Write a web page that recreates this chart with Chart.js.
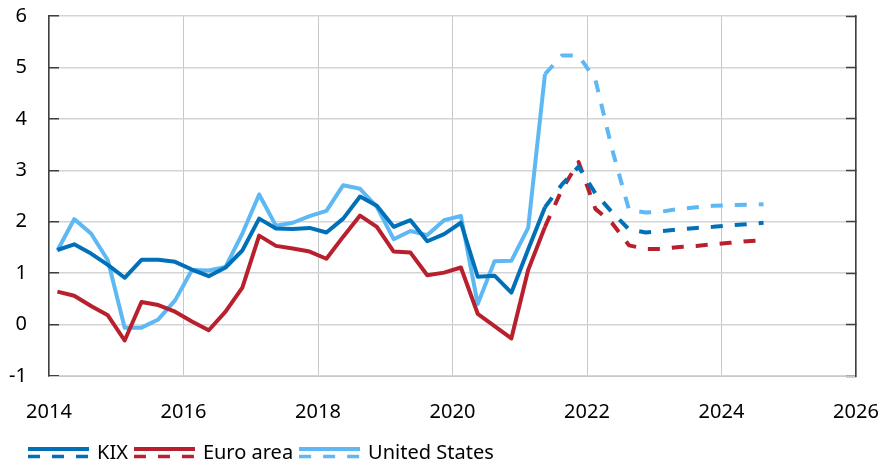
<!DOCTYPE html>
<html>
<head>
<meta charset="utf-8">
<script src="https://cdn.jsdelivr.net/npm/chart.js@4.4.0/dist/chart.umd.min.js"></script>
<style>
  body { margin: 0; background: #fff; }
  #wrap { width: 881px; height: 461px; }
</style>
</head>
<body>
<div id="wrap"><canvas id="chart" width="881" height="461"></canvas></div>
<script>
// quarters 2014Q1 .. 2024Q3, forecast (dashed) from 2021Q2 on
const firstYear = 2014;
const quarterCount = 43;
const forecastFrom = 29; // index of 2021Q2

const kix = [
  1.45, 1.56, 1.38, 1.16,
  0.91, 1.26, 1.26, 1.22,
  1.07, 0.94, 1.11, 1.44,
  2.06, 1.87, 1.86, 1.88,
  1.79, 2.06, 2.49, 2.31,
  1.90, 2.03, 1.62, 1.76,
  1.98, 0.93, 0.95, 0.62,
  1.46, 2.28, 2.72, 3.07,
  2.55, 2.18, 1.85, 1.79,
  1.82, 1.85, 1.88, 1.90,
  1.93, 1.95, 1.98
];
const euroArea = [
  0.64, 0.56, 0.36, 0.18,
  -0.31, 0.44, 0.38, 0.25,
  0.06, -0.11, 0.25, 0.72,
  1.73, 1.53, 1.48, 1.42,
  1.28, 1.71, 2.12, 1.90,
  1.42, 1.40, 0.96, 1.01,
  1.11, 0.21, -0.03, -0.27,
  1.06, 1.90, 2.62, 3.16,
  2.25, 1.97, 1.54, 1.47,
  1.47, 1.51, 1.53, 1.56,
  1.59, 1.62, 1.64
];
const unitedStates = [
  1.44, 2.05, 1.77, 1.25,
  -0.06, -0.06, 0.10, 0.47,
  1.06, 1.05, 1.12, 1.77,
  2.53, 1.92, 1.98, 2.11,
  2.21, 2.71, 2.64, 2.29,
  1.66, 1.82, 1.74, 2.03,
  2.11, 0.40, 1.23, 1.24,
  1.88, 4.87, 5.23, 5.23,
  4.76, 3.40, 2.23, 2.18,
  2.20, 2.25, 2.28, 2.31,
  2.32, 2.33, 2.34
];
const xTicks = [2014, 2016, 2018, 2020, 2022, 2024, 2026];
const yTicks = [-1, 0, 1, 2, 3, 4, 5, 6];

const seriesNames = ['KIX', 'Euro area', 'United States'];
const seriesColors = ['#0070b8', '#b8202e', '#5db8f4'];

// mid-quarter x position for each quarter
const quarters = [];
for (let i = 0; i < quarterCount; i++) {
  quarters.push(firstYear + Math.floor(i / 4) + ((i % 4) + 0.5) / 4);
}

function toPoints(values) {
  return values.map((v, i) => ({ x: quarters[i], y: v }));
}

// legend symbol: solid line above a dashed line
function legendSymbol(color) {
  const c = document.createElement('canvas');
  c.width = 61; c.height = 14;
  const g = c.getContext('2d');
  g.strokeStyle = color;
  g.lineWidth = 4;
  g.beginPath(); g.moveTo(0, 3); g.lineTo(61, 3); g.stroke();
  g.lineWidth = 3.5;
  g.setLineDash([12, 12]);
  g.beginPath(); g.moveTo(0, 10.5); g.lineTo(61, 10.5); g.stroke();
  return c;
}

const allValues = [kix, euroArea, unitedStates];
const datasets = allValues.map((vals, k) => ({
  label: seriesNames[k],
  data: toPoints(vals),
  borderColor: seriesColors[k],
  backgroundColor: seriesColors[k],
  borderWidth: 4,
  pointRadius: 0,
  tension: 0,
  borderJoinStyle: 'round',
  pointStyle: legendSymbol(seriesColors[k]),
  segment: {
    borderDash: ctx => ctx.p0DataIndex >= forecastFrom ? [12, 12] : undefined
  }
}));

const font = { family: "'Noto Sans', 'Open Sans', sans-serif", size: 20 };

// nudge the legend to where the original sits
const legendShift = {
  id: 'legendShift',
  afterLayout(chart) {
    chart.legend.left = 22;
    chart.legend.top = 435;
  }
};

new Chart(document.getElementById('chart'), {
  type: 'line',
  data: { datasets },
  plugins: [legendShift],
  options: {
    responsive: false,
    animation: false,
    layout: { padding: { left: 0, right: 0, top: 16, bottom: 0 } },
    plugins: {
      tooltip: { enabled: false },
      legend: {
        position: 'bottom',
        align: 'start',
        labels: {
          usePointStyle: true,
          pointStyleWidth: 57,
          padding: 8,
          color: '#000',
          font: { family: font.family, size: 20 }
        }
      }
    },
    scales: {
      x: {
        type: 'linear',
        min: 2014,
        max: 2026,
        afterBuildTicks: s => { s.ticks = xTicks.map(v => ({ value: v })); },
        afterFit: s => { s.paddingLeft = 0; s.paddingRight = 0; s.height = 47; },
        ticks: { color: '#000', font, padding: 24, maxRotation: 0, callback: v => String(v) },
        grid: { color: '#c8c8c8', lineWidth: 1, drawTicks: false },
        border: { color: '#c8c8c8', width: 1 }
      },
      y: {
        position: 'left',
        min: -1,
        max: 6,
        afterBuildTicks: s => { s.ticks = yTicks.map(v => ({ value: v })); },
        afterFit: s => { s.width = 49; s.paddingTop = 0; s.paddingBottom = 0; },
        ticks: { color: '#000', font, padding: 32 },
        grid: { color: '#d4d4d4', lineWidth: 1.5, tickLength: -10, tickColor: '#404040', tickWidth: 1.5 },
        border: { color: '#404040', width: 1.5 }
      },
      y2: {
        position: 'right',
        min: -1,
        max: 6,
        afterBuildTicks: s => { s.ticks = yTicks.map(v => ({ value: v })); },
        afterFit: s => { s.width = 25; s.paddingTop = 0; s.paddingBottom = 0; },
        ticks: { display: false },
        grid: { drawOnChartArea: false, tickLength: -10, tickColor: '#404040', tickWidth: 1.5 },
        border: { color: '#404040', width: 1.5 }
      }
    }
  }
});
</script>
</body>
</html>
